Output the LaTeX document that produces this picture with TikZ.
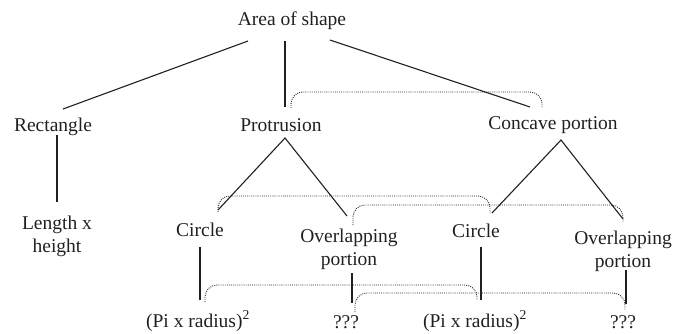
\documentclass[tikz,border=0pt]{standalone}
\usepackage{fontspec}
\setmainfont{Liberation Serif}
\usepackage{xcolor}
\definecolor{cInk}{HTML}{231F20}
\usepackage{tikz}
\usetikzlibrary{calc}
\tikzset{
  node-label/.style={inner sep=0pt,anchor=base,align=center,text=cInk,
    font=\fontsize{19.5}{23}\selectfont},
  link/.style={draw=cInk,line width=1.1pt},
  link-pair/.style={draw=cInk,line width=0.9pt,dash pattern=on 0.9pt off 1.2pt,
    rounded corners=12pt},
}

\begin{document}
\begin{tikzpicture}[x=1pt,y=-1pt]
  \useasboundingbox (0,0) rectangle (674,333);
  % levels, top to bottom (two-line labels sit on their last line)
  \node[node-label] (area) at (292,25) {Area of shape};
  \node[node-label] (rect) at (53,131) {Rectangle};
  \node[node-label] (prot) at (281,131) {Protrusion};
  \node[node-label] (conc) at (553,129) {Concave portion};
  \node[node-label] (lxh) at (57,252) {Length x\\height};
  \node[node-label] (cir1) at (200,236) {Circle};
  \node[node-label] (ovl1) at (349,265) {Overlapping\\portion};
  \node[node-label] (cir2) at (476,237) {Circle};
  \node[node-label] (ovl2) at (623,267) {Overlapping\\portion};
  \node[node-label] (pir1) at (198,327) {(Pi x radius)\textsuperscript{2}};
  \node[node-label] (qq1) at (346,328) {???};
  \node[node-label] (pir2) at (475,327) {(Pi x radius)\textsuperscript{2}};
  \node[node-label] (qq2) at (623,328) {???};
  % tree
  \draw[link] ([shift={(-44,16)}]area.base) -- ([shift={(10,-22)}]rect.base);
  \draw[link] ([shift={(-7,16)}]area.base) -- ([shift={(4,-24)}]prot.base);
  \draw[link] ([shift={(38,15)}]area.base) -- ([shift={(-23,-22)}]conc.base);
  \draw[link] ([shift={(4,4)}]rect.base) -- ([shift={(0,-50)}]lxh.base);
  \draw[link] ([shift={(18,-26)}]cir1.base) -- ([shift={(4,7)}]prot.base)
              -- ([shift={(-2,-49)}]ovl1.base);
  \draw[link] ([shift={(16,-24)}]cir2.base) -- ([shift={(8,11)}]conc.base)
              -- ([shift={(0,-48)}]ovl2.base);
  \draw[link] ([shift={(0,11)}]cir1.base) -- ([shift={(2,-27)}]pir1.base);
  \draw[link] ([shift={(3,8)}]ovl1.base) -- ([shift={(6,-25)}]qq1.base);
  \draw[link] ([shift={(5,10)}]cir2.base) -- ([shift={(6,-27)}]pir2.base);
  \draw[link] ([shift={(3,3)}]ovl2.base) -- ([shift={(3,-24)}]qq2.base);
  % pairs
  \draw[link-pair] ([shift={(10,-23)}]prot.base) -- ++(0,-16) -| ([shift={(-11,-22)}]conc.base);
  \draw[link-pair] ([shift={(18,-24)}]cir1.base) -- ++(0,-16) -| ([shift={(14,-24)}]cir2.base);
  \draw[link-pair] ([shift={(4,-40)}]ovl1.base) -- ++(0,-20) -| ([shift={(0,-45)}]ovl2.base);
  \draw[link-pair] ([shift={(7,-25)}]pir1.base) -- ++(0,-17) -| ([shift={(2,-27)}]pir2.base);
  \draw[link-pair] ([shift={(9,-16)}]qq1.base) -- ++(0,-19) -| ([shift={(2,-18)}]qq2.base);
\end{tikzpicture}
\end{document}
